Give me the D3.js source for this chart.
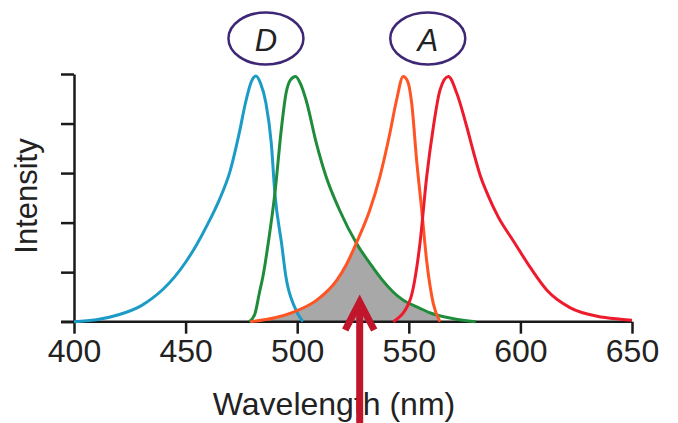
<!DOCTYPE html>
<html>
<head>
<meta charset="utf-8">
<script src="https://cdn.jsdelivr.net/npm/d3@7/dist/d3.min.js"></script>
<style>
  html, body { margin: 0; padding: 0; background: #fff; }
  svg { display: block; }
  text { font-family: "Liberation Sans", Arial, Helvetica, sans-serif; fill: #222; }
</style>
</head>
<body>
<svg id="chart" width="678" height="423"></svg>
<script>
// ---- data ----
const xTicks = [400, 450, 500, 550, 600, 650];
const yTicks = [0, 1, 2, 3, 4, 5];

const donorExNm = [400, 410, 420, 430, 435, 440, 445, 450, 455, 460, 465, 470, 474, 477, 479.5, 481.5, 483.5, 486, 488.4, 490, 493, 495, 499, 502.5];
const donorExI  = [0, 0.04, 0.14, 0.32, 0.47, 0.66, 0.9, 1.2, 1.56, 1.98, 2.45, 3.05, 3.8, 4.45, 4.85, 4.96, 4.82, 4.41, 3.6, 2.59, 1.58, 0.89, 0.28, 0.0];

const donorEmNm = [478.5, 481, 483, 485, 487, 490, 493, 495, 497, 499.3, 501.5, 504, 508.6, 513, 519, 526.6, 534, 538, 543, 547, 555, 560, 570, 580];
const donorEmI  = [0, 0.15, 0.57, 1.0, 1.58, 2.59, 3.93, 4.61, 4.88, 4.95, 4.8, 4.47, 3.6, 2.92, 2.25, 1.58, 1.09, 0.85, 0.6, 0.45, 0.27, 0.17, 0.06, 0.0];

const accExNm = [479, 490, 498, 508.6, 517.6, 522, 526.6, 532.5, 537, 541.5, 544.5, 547.5, 549.5, 551.3, 553.5, 555.8, 558, 561, 564];
const accExI  = [0, 0.08, 0.19, 0.43, 0.83, 1.15, 1.6, 2.25, 2.92, 3.8, 4.47, 4.95, 4.85, 4.41, 3.26, 2.25, 1.23, 0.36, 0.0];

const accEmNm = [543, 550.5, 555, 558, 561, 564, 567.7, 571.5, 576, 579, 582, 585.5, 590, 597, 604.5, 612, 622.4, 634.4, 645, 650];
const accEmI  = [0, 0.43, 1.58, 2.92, 3.93, 4.68, 4.95, 4.61, 3.93, 3.42, 2.95, 2.55, 2.12, 1.62, 1.09, 0.63, 0.28, 0.11, 0.05, 0.03];

const labels = ["D", "A"];
const labelNm = [486, 558.5];
const arrowNm = 528;

// ---- drawing ----
const svg = d3.select("#chart");
const x = d3.scaleLinear().domain([400, 650]).range([74, 632]);
const y = d3.scaleLinear().domain([0, 5]).range([321.7, 74]);

const toPts = (xs, ys) => xs.map((d, i) => [d, ys[i]]);
const line = d3.line().x(d => x(d[0])).y(d => y(d[1])).curve(d3.curveMonotoneX);
const area = d3.area().x(d => x(d[0])).y0(y(0)).y1(d => y(d[1])).curve(d3.curveMonotoneX);

const donorEm = toPts(donorEmNm, donorEmI);
const accEx = toPts(accExNm, accExI);

// spectral overlap = area under acceptor excitation clipped by area under donor emission
svg.append("clipPath").attr("id", "clipEm")
  .append("path").attr("d", area(donorEm));
svg.append("path")
  .attr("d", area(accEx))
  .attr("clip-path", "url(#clipEm)")
  .attr("fill", "#a8a8a8");

// axes
const yAxis = d3.axisLeft(y).tickValues(yTicks).tickFormat("").tickSize(13).tickSizeOuter(0);
const gy = svg.append("g").attr("transform", `translate(${x(400)},0)`).call(yAxis);
gy.selectAll("path, line").attr("stroke", "#1a1a1a").attr("stroke-width", 2.5);

const xAxis = d3.axisBottom(x).tickValues(xTicks).tickFormat(d3.format("d")).tickSize(12).tickSizeOuter(0).tickPadding(6);
const gx = svg.append("g").attr("transform", `translate(0,${y(0)})`).call(xAxis);
gx.selectAll("path, line").attr("stroke", "#1a1a1a").attr("stroke-width", 2.5);
gx.select(".domain").attr("d", `M${x(400) - 13},0H${x(650)}`);
gx.selectAll("text")
  .attr("font-family", '"Liberation Sans", Arial, sans-serif')
  .attr("font-size", 32).attr("fill", "#222");

// spectra
const series = [
  { nm: donorExNm, v: donorExI, color: "#1c9bc6" },
  { nm: donorEmNm, v: donorEmI, color: "#1f8c3b" },
  { nm: accExNm, v: accExI, color: "#ff5424" },
  { nm: accEmNm, v: accEmI, color: "#ee1b2d" }
];
svg.append("g").selectAll("path").data(series).join("path")
  .attr("d", s => line(toPts(s.nm, s.v)))
  .attr("fill", "none")
  .attr("stroke", s => s.color)
  .attr("stroke-width", 3)
  .attr("stroke-linejoin", "round");

// axis titles
svg.append("text")
  .attr("x", 334).attr("y", 415)
  .attr("text-anchor", "middle")
  .attr("font-size", 32)
  .text("Wavelength (nm)");
svg.append("text")
  .attr("transform", "translate(37,196) rotate(-90)")
  .attr("text-anchor", "middle")
  .attr("font-size", 31)
  .text("Intensity");

// D / A ellipse labels
const lg = svg.append("g").selectAll("g").data(labels).join("g")
  .attr("transform", (d, i) => `translate(${x(labelNm[i])},38.5)`);
lg.append("ellipse").attr("rx", 37.5).attr("ry", 26)
  .attr("fill", "none").attr("stroke", "#3e2775").attr("stroke-width", 2.5);
lg.append("text").attr("y", 12).attr("text-anchor", "middle")
  .attr("font-size", 31).attr("font-style", "italic")
  .attr("fill", "#1a1a1a")
  .text(d => d);

// arrow pointing at overlap region
const ax = x(arrowNm);
svg.append("line")
  .attr("x1", ax).attr("x2", ax).attr("y1", 423).attr("y2", 303)
  .attr("stroke", "#c1152b").attr("stroke-width", 7);
svg.append("path")
  .attr("d", `M${ax - 14.5},330L${ax},302L${ax + 14.5},330`)
  .attr("fill", "none").attr("stroke", "#c1152b").attr("stroke-width", 7)
  .attr("stroke-linejoin", "miter");
</script>
</body>
</html>
